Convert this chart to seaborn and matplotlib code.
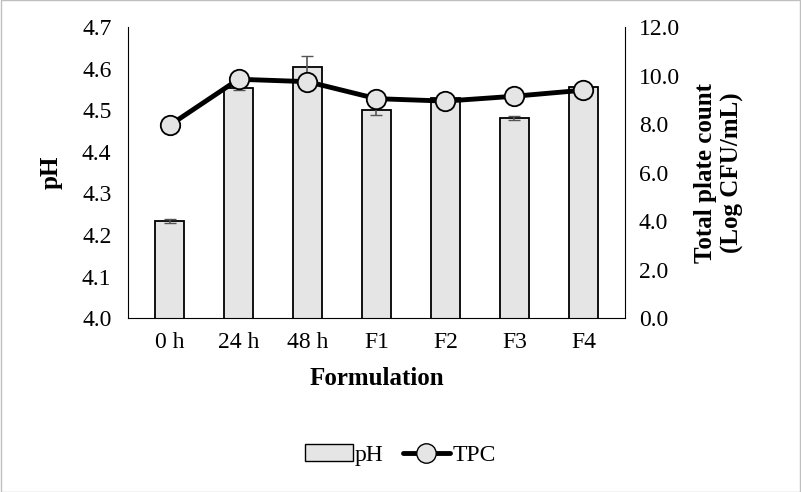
import numpy as np
import pandas as pd
import matplotlib.pyplot as plt
import seaborn as sns
from matplotlib.lines import Line2D
from matplotlib.patches import Patch

categories = ["0 h", "24 h", "48 h", "F1", "F2", "F3", "F4"]
ph_values = [4.233, 4.553, 4.605, 4.500, 4.530, 4.482, 4.557]
ph_err = [0.005, 0.005, 0.025, 0.012, 0.0, 0.005, 0.0]
tpc_values = [7.95, 9.85, 9.75, 9.05, 8.95, 9.15, 9.40]

sns.set_style("white")
plt.rcParams["font.family"] = "Liberation Serif"
plt.rcParams["text.color"] = "black"
plt.rcParams["axes.labelcolor"] = "black"
plt.rcParams["xtick.color"] = "black"
plt.rcParams["ytick.color"] = "black"

df = pd.DataFrame({"cat": categories, "pH": ph_values, "TPC": tpc_values})

fig = plt.figure(figsize=(8.01, 4.92), dpi=100)
ax = fig.add_axes([0.16, 0.353, 0.62, 0.592])
sns.barplot(data=df, x="cat", y="pH", color="#e5e5e5", edgecolor="black",
            linewidth=1.3, width=0.42, ax=ax)
ax.errorbar(np.arange(len(categories)), ph_values, yerr=ph_err, fmt="none",
            ecolor="#555555", capsize=4, elinewidth=1.2)
ax.set_ylim(4.0, 4.7)
ax.set_yticks(np.arange(4.0, 4.71, 0.1))
ax.set_yticklabels([f"{v:.1f}" for v in np.arange(4.0, 4.71, 0.1)], fontsize=17)
ax.set_xlabel("Formulation", fontsize=18, fontweight="bold", labelpad=10)
ax.set_ylabel("pH", fontsize=18, fontweight="bold", labelpad=14)
ax.tick_params(axis="x", labelsize=17, length=0, pad=10)
ax.tick_params(axis="y", length=0, pad=12)
for s in ["top", "right"]:
    ax.spines[s].set_visible(False)
ax.spines["left"].set_color("black")
ax.spines["bottom"].set_color("black")
ax.set_xlim(-0.6, 6.6)

ax2 = ax.twinx()
sns.lineplot(x=np.arange(len(categories)), y=tpc_values, ax=ax2, color="black",
             linewidth=3.5, marker="o", markersize=14, markerfacecolor="#e5e5e5",
             markeredgecolor="black", markeredgewidth=1.3)
ax2.set_ylim(0, 12)
ax2.set_yticks(np.arange(0, 12.1, 2))
ax2.set_yticklabels([f"{v:.1f}" for v in np.arange(0, 12.1, 2)], fontsize=17)
ax2.set_ylabel("Total plate count\n(Log CFU/mL)", fontsize=18, fontweight="bold", labelpad=10)
ax2.tick_params(axis="y", length=0, pad=10)
for s in ["top", "left", "bottom"]:
    ax2.spines[s].set_visible(False)
ax2.spines["right"].set_color("black")

handles = [Patch(facecolor="#e5e5e5", edgecolor="black", label="pH"),
           Line2D([0], [0], color="black", lw=3.5, marker="o", markersize=14,
                  markerfacecolor="#e5e5e5", markeredgecolor="black", label="TPC")]
fig.legend(handles=handles, loc="center", bbox_to_anchor=(0.5, 0.075), ncol=2,
           frameon=False, fontsize=17, handletextpad=0.1, columnspacing=0.8)

fig.patches.append(plt.Rectangle((0.001, 0.001), 0.998, 0.998, transform=fig.transFigure,
                                 fill=False, edgecolor="#bfbfbf", linewidth=1))
fig.savefig("out.png", dpi=100)
